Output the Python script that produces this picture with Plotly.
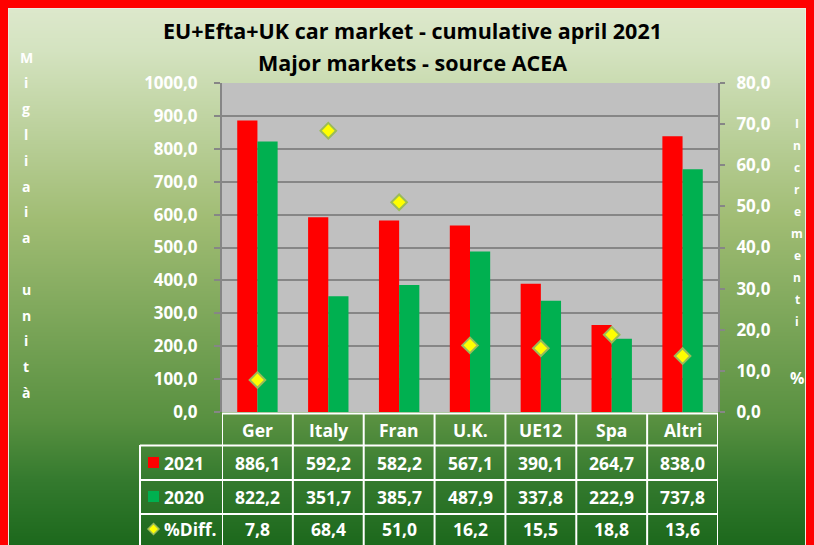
import zlib, struct, base64
import plotly.graph_objects as go

# ---------------- data ----------------
categories = ["Ger", "Italy", "Fran", "U.K.", "UE12", "Spa", "Altri"]
sales_2021 = [886.1, 592.2, 582.2, 567.1, 390.1, 264.7, 838.0]
sales_2020 = [822.2, 351.7, 385.7, 487.9, 337.8, 222.9, 737.8]
pct_diff = [7.8, 68.4, 51.0, 16.2, 15.5, 18.8, 13.6]
left_ticks = [0, 100, 200, 300, 400, 500, 600, 700, 800, 900, 1000]
right_ticks = [0, 10, 20, 30, 40, 50, 60, 70, 80]
title_lines = ["EU+Efta+UK car market - cumulative april 2021", "Major markets - source ACEA"]
left_title = "Migliaia unità"
right_title = "Incrementi"
series_names = ["2021", "2020", "%Diff."]

# ---------------- geometry ----------------
W, H = 814, 545
L, R, T, B = 222, 718, 83, 412
PW, PH = R - L, B - T


def px(x):
    return (x - L) / PW


def py(y):
    return (B - y) / PH


def fmt(v):
    return f"{v:.1f}".replace(".", ",")


# ---------------- background gradient png ----------------
stops = [(0, (222, 233, 206)), (50, (212, 227, 192)), (220, (160, 188, 115)),
         (420, (88, 144, 64)), (480, (52, 122, 46)), (545, (28, 104, 28))]


def grad(y):
    for (y0, c0), (y1, c1) in zip(stops[:-1], stops[1:]):
        if y0 <= y <= y1:
            t = (y - y0) / (y1 - y0)
            return tuple(int(round(a + (b - a) * t)) for a, b in zip(c0, c1))
    return stops[-1][1]


red = bytes((255, 0, 0))
white = bytes((235, 235, 225))
raw = bytearray()
for y in range(H):
    raw.append(0)
    if y < 8:
        raw += red * W
        continue
    g = bytes(grad(y))
    if y == 8:
        mid = white * (W - 16)
    else:
        mid = white + g * (W - 18) + white
    raw += red * 8 + mid + red * 8


def chunk(tag, data):
    return struct.pack(">I", len(data)) + tag + data + struct.pack(">I", zlib.crc32(tag + data) & 0xffffffff)


png = b"\x89PNG\r\n\x1a\n" + chunk(b"IHDR", struct.pack(">IIBBBBB", W, H, 8, 2, 0, 0, 0)) \
    + chunk(b"IDAT", zlib.compress(bytes(raw), 9)) + chunk(b"IEND", b"")
bg_uri = "data:image/png;base64," + base64.b64encode(png).decode()

FONT = "Open Sans"
fig = go.Figure()
fig.add_trace(go.Bar(x=categories, y=sales_2021, name=series_names[0], marker=dict(color="#FF0000", line=dict(width=0))))
fig.add_trace(go.Bar(x=categories, y=sales_2020, name=series_names[1], marker=dict(color="#00B050", line=dict(width=0))))
fig.add_trace(go.Scatter(x=categories, y=pct_diff, name=series_names[2], mode="markers", yaxis="y2",
                         marker=dict(symbol="diamond", size=12, color="#FFFF00", line=dict(color="#9BBB59", width=2))))

grid = "#868686"
tick_font = dict(family=FONT, size=17, color="white", weight="bold")
fig.update_layout(
    width=W, height=H, autosize=False,
    margin=dict(l=L, r=W - R, t=T, b=H - B, pad=0),
    paper_bgcolor="#ffffff", plot_bgcolor="rgba(0,0,0,0)",
    showlegend=False, barmode="group", bargap=0.43, bargroupgap=0,
    font=dict(family=FONT, color="white"),
    xaxis=dict(type="category", range=[-0.5, 6.5], showticklabels=False, showgrid=False,
               zeroline=False, showline=False, ticks=""),
    yaxis=dict(range=[0, 1000], tickvals=left_ticks, ticktext=[fmt(v) for v in left_ticks],
               showgrid=True, gridcolor=grid, gridwidth=2, zeroline=False,
               showline=True, linecolor=grid, linewidth=2, ticks="outside", ticklen=6,
               tickcolor=grid, tickwidth=2, ticklabelstandoff=13, tickfont=tick_font),
    yaxis2=dict(range=[0, 80], overlaying="y", side="right", tickvals=right_ticks,
                ticktext=[fmt(v) for v in right_ticks], showgrid=False, zeroline=False,
                showline=True, linecolor=grid, linewidth=2, ticks="outside", ticklen=5,
                tickcolor=grid, tickwidth=2, ticklabelstandoff=8, tickfont=tick_font),
)

fig.add_layout_image(dict(source=bg_uri, xref="paper", yref="paper", x=px(0), y=py(0),
                          sizex=W / PW, sizey=H / PH, sizing="stretch", xanchor="left",
                          yanchor="top", layer="below"))
# plot area
fig.add_shape(type="rect", xref="x domain", yref="y domain", x0=0, x1=1, y0=0, y1=1,
              fillcolor="#C0C0C0", line=dict(width=0), layer="below")

ann = []
# title
for i, line in enumerate(title_lines):
    ann.append(dict(text=f"<b>{line}</b>", xref="paper", yref="paper", x=px(412), y=py(30 + i * 32),
                    xanchor="center", yanchor="middle", showarrow=False,
                    font=dict(family=FONT, size=21.5, color="black")))
# vertical axis titles
for i, ch in enumerate(left_title):
    if ch.strip():
        ann.append(dict(text=f"<b>{ch}</b>", xref="paper", yref="paper", x=px(26), y=py(57 + i * 25.8),
                        xanchor="center", yanchor="middle", showarrow=False,
                        font=dict(family=FONT, size=14, color="white")))
for i, ch in enumerate(right_title):
    ann.append(dict(text=f"<b>{ch}</b>", xref="paper", yref="paper", x=px(797), y=py(123 + i * 22.1),
                    xanchor="center", yanchor="middle", showarrow=False,
                    font=dict(family=FONT, size=12, color="white")))
ann.append(dict(text="<b>%</b>", xref="paper", yref="paper", x=px(797), y=py(378),
                xanchor="center", yanchor="middle", showarrow=False,
                font=dict(family=FONT, size=16, color="white")))

# data table
row_y = [430, 463, 497, 529]
cell_font = dict(family=FONT, size=17.5, color="white")
for c in categories:
    ann.append(dict(text=f"<b>{c}</b>", xref="x", yref="paper", x=c, y=py(row_y[0]),
                    showarrow=False, xanchor="center", yanchor="middle", font=cell_font))
for vals, yy in zip([sales_2021, sales_2020, pct_diff], row_y[1:]):
    for c, v in zip(categories, vals):
        ann.append(dict(text=f"<b>{fmt(v)}</b>", xref="x", yref="paper", x=c, y=py(yy),
                        showarrow=False, xanchor="center", yanchor="middle", font=cell_font))
for name, yy in zip(series_names, row_y[1:]):
    ann.append(dict(text=f"<b>{name}</b>", xref="paper", yref="paper", x=px(162), y=py(yy),
                    showarrow=False, xanchor="left", yanchor="middle", font=cell_font))
fig.update_layout(annotations=ann)

# legend keys in table
fig.add_shape(type="rect", xref="paper", yref="paper", x0=px(148), x1=px(159), y0=py(457), y1=py(468),
              fillcolor="#FF0000", line=dict(width=0))
fig.add_shape(type="rect", xref="paper", yref="paper", x0=px(148), x1=px(159), y0=py(491), y1=py(502),
              fillcolor="#00B050", line=dict(width=0))
fig.add_shape(type="path", xref="paper", yref="paper",
              path=f"M {px(148)},{py(529)} L {px(153.5)},{py(523.5)} L {px(159)},{py(529)} L {px(153.5)},{py(534.5)} Z",
              fillcolor="#FFFF00", line=dict(color="#9BBB59", width=1.5))

# table grid lines
lw = dict(color="white", width=2)
for k in range(len(categories) + 1):
    fig.add_shape(type="line", xref="x", yref="paper", x0=k - 0.5, x1=k - 0.5, y0=py(413), y1=py(H + 2), line=lw)
fig.add_shape(type="line", xref="paper", yref="paper", x0=px(140), x1=px(140), y0=py(445), y1=py(H + 2), line=lw)
fig.add_shape(type="line", xref="paper", yref="paper", x0=0, x1=1, y0=py(413.5), y1=py(413.5), line=lw)
for yy in [445.5, 480, 514]:
    fig.add_shape(type="line", xref="paper", yref="paper", x0=px(140), x1=1, y0=py(yy), y1=py(yy), line=lw)

fig.write_html("out.html", config={"displayModeBar": False},
               post_script="document.body.style.margin='0';document.body.style.overflow='hidden';")
